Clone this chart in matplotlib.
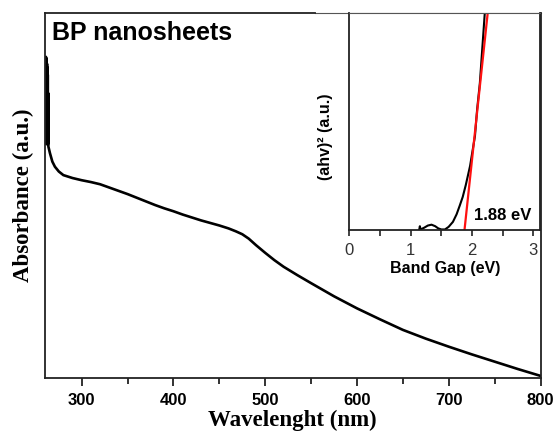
import matplotlib
matplotlib.use("Agg")
from matplotlib import pyplot as plt
from matplotlib.ticker import MultipleLocator

# UV-Vis absorbance of the BP nanosheet dispersion
wavelength = [260.8, 261.0, 261.2, 261.4, 261.6, 261.8, 262.0, 262.2, 262.4, 262.6,
              262.8, 263.0, 263.2, 263.4, 263.7, 265.4, 268, 270.8, 275, 280,
              285, 290, 300, 310, 320, 330, 340, 350, 360, 370,
              380, 390, 400, 410, 420, 430, 440, 450, 460, 468,
              475, 482, 490, 500, 510, 520, 535, 550, 575, 600,
              625, 650, 675, 700, 725, 750, 775, 800]
absorbance = [0.66, 0.879, 0.65, 0.875, 0.64, 0.87, 0.65, 0.86, 0.64, 0.85,
              0.65, 0.83, 0.64, 0.78, 0.633, 0.615, 0.592, 0.578, 0.565, 0.555,
              0.551, 0.547, 0.541, 0.536, 0.530, 0.521, 0.512, 0.503, 0.493, 0.483,
              0.473, 0.464, 0.456, 0.447, 0.439, 0.431, 0.424, 0.417, 0.409, 0.401,
              0.393, 0.381, 0.363, 0.342, 0.322, 0.304, 0.281, 0.259, 0.223, 0.190,
              0.160, 0.131, 0.107, 0.085, 0.064, 0.044, 0.024, 0.005]

# Tauc plot (inset)
energy = [1.14, 1.15, 1.16, 1.22, 1.28, 1.34, 1.40, 1.45, 1.50, 1.56,
          1.62, 1.69, 1.75, 1.80, 1.85, 1.90, 1.97, 2.05, 2.085, 2.13,
          2.21, 2.23]
tauc = [0.0, 0.015, 0.0, 0.008, 0.018, 0.022, 0.015, 0.005, 0.0, 0.0,
        0.012, 0.035, 0.07, 0.109, 0.15, 0.205, 0.293, 0.431, 0.553, 0.676,
        0.997, 1.08]
fit_x = [1.88, 2.27]
fit_y = [0.0, 1.03]
band_gap = 1.88

SANS = "Liberation Sans"
SERIF = "Liberation Serif"
EDGE = "#222222"

fig = plt.figure(figsize=(5.55, 4.33), dpi=100)
ax = fig.add_axes([0.0811, 0.1277, 0.8928, 0.8430])
ax.plot(wavelength, absorbance, color="black", lw=1.9, solid_joinstyle="round")
ax.set_xlim(260, 800)
ax.set_ylim(0, 1.0)
ax.xaxis.set_major_locator(MultipleLocator(100))
ax.xaxis.set_minor_locator(MultipleLocator(50))
ax.tick_params(axis="x", which="major", direction="out", length=6, width=1.3,
               color=EDGE, pad=5)
ax.tick_params(axis="x", which="minor", direction="out", length=4, width=1.3,
               color=EDGE)
ax.tick_params(axis="y", left=False, labelleft=False)
for lab in ax.get_xticklabels():
    lab.set_fontfamily(SANS)
    lab.set_fontweight("bold")
    lab.set_fontsize(12)
for s in ax.spines.values():
    s.set_linewidth(1.3)
    s.set_color(EDGE)
ax.spines["top"].set_bounds(260, 554)
ax.axhline(1.0, xmin=(554 - 260) / 540, xmax=1, lw=0.8, color="#555555",
           clip_on=False)
ax.set_xlabel("Wavelenght (nm)", fontfamily=SERIF, fontweight="bold",
              fontsize=16.5, labelpad=1)
ax.set_ylabel("Absorbance (a.u.)", fontfamily=SERIF, fontweight="bold",
              fontsize=16.5, labelpad=8)
ax.text(0.015, 0.925, "BP nanosheets", transform=ax.transAxes,
        fontfamily=SANS, fontweight="bold", fontsize=18, va="baseline")

# inset: band gap estimate
ins = fig.add_axes([0.6297, 0.4681, 0.3441, 0.5025])
ins.plot(energy, tauc, color="black", lw=1.5)
ins.plot(fit_x, fit_y, color="#ff1010", lw=1.6)
ins.set_xlim(0, 3.12)
ins.set_ylim(-0.004, 1.0)
ins.xaxis.set_major_locator(MultipleLocator(1))
ins.xaxis.set_minor_locator(MultipleLocator(0.5))
ins.tick_params(axis="x", which="both", direction="out", length=4, width=1.2,
                color=EDGE, pad=5, labelsize=12, labelcolor="#333333")
ins.tick_params(axis="y", left=False, labelleft=False)
for lab in ins.get_xticklabels():
    lab.set_fontfamily(SANS)
for side in ("left", "bottom", "right"):
    ins.spines[side].set_linewidth(1.3)
    ins.spines[side].set_color(EDGE)
ins.spines["top"].set_linewidth(0.8)
ins.spines["top"].set_color("#555555")
ins.set_xlabel("Band Gap (eV)", fontfamily=SANS, fontweight="bold",
               fontsize=11.5, labelpad=2)
ins.set_ylabel("(ahv)² (a.u.)", fontfamily=SANS, fontweight="bold",
               fontsize=11.5)
ins.yaxis.set_label_coords(-0.085, 0.43)
ins.text(band_gap + 0.15, 0.03, f"{band_gap:.2f} eV", fontfamily=SANS,
         fontweight="bold", fontsize=12, va="bottom")

fig.savefig("out.png", dpi=100)
